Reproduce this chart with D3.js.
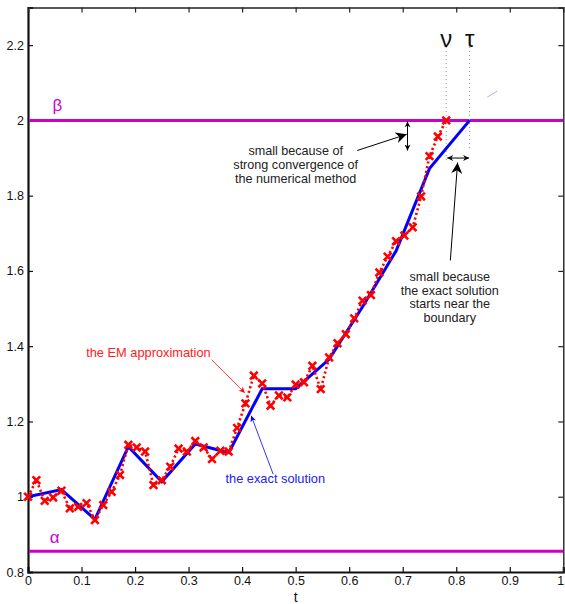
<!DOCTYPE html>
<html>
<head>
<meta charset="utf-8">
<script src="https://cdn.jsdelivr.net/npm/d3@7"></script>
<style>
  html, body { margin: 0; padding: 0; background: #fff; }
  svg { display: block; }
  text { font-family: "Liberation Sans", Arial, Helvetica, sans-serif; }
</style>
</head>
<body>
<svg id="chart" width="565" height="604"></svg>
<script>
// Euler–Maruyama approximation, sampled every emStep, up to the exit time nu
const emStep = 1 / 64;
const emValues = [
  1.000, 1.044, 0.989, 0.998, 1.016, 0.969, 0.973, 0.983, 0.938, 0.978,
  1.013, 1.058, 1.138, 1.131, 1.120, 1.031, 1.044, 1.080, 1.128, 1.120,
  1.148, 1.131, 1.100, 1.122, 1.120, 1.183, 1.248, 1.322, 1.301, 1.242,
  1.269, 1.264, 1.298, 1.304, 1.348, 1.286, 1.370, 1.408, 1.432, 1.474,
  1.521, 1.536, 1.596, 1.638, 1.679, 1.694, 1.716, 1.798, 1.905, 1.957,
  2.000
];

// exact solution, piecewise linear, up to the exit time tau
const exactTimes  = [0, 0.0625, 0.125, 0.1875, 0.25, 0.3125, 0.375, 0.4375, 0.5, 0.5625, 0.625, 0.6875, 0.75, 0.825];
const exactValues = [1.000, 1.019, 0.940, 1.133, 1.040, 1.140, 1.117, 1.287, 1.287, 1.365, 1.505, 1.653, 1.872, 2.000];

// boundaries of the interval
const alpha = 0.855;
const beta = 2.0;
const nuTime = 0.78125;
const tauTime = 0.825;

const xTicks = [0, 0.1, 0.2, 0.3, 0.4, 0.5, 0.6, 0.7, 0.8, 0.9, 1];
const yTicks = [0.8, 1, 1.2, 1.4, 1.6, 1.8, 2, 2.2];
const xDomain = [0, 1];
const yDomain = [0.8, 2.3];

const svg = d3.select("#chart");
const plotL = 28, plotR = 563.3, plotT = 7.5, plotB = 572;

const x = d3.scaleLinear().domain(xDomain).range([plotL, plotR]);
const y = d3.scaleLinear().domain(yDomain).range([plotB, plotT]);

const fmt = d => d3.format("")(+d.toFixed(1));

// arrowhead markers
const defs = svg.append("defs");
function head(id, color, w, h) {
  defs.append("marker")
    .attr("id", id).attr("viewBox", "0 0 10 10")
    .attr("refX", 10).attr("refY", 5)
    .attr("markerWidth", w).attr("markerHeight", h)
    .attr("markerUnits", "userSpaceOnUse")
    .attr("orient", "auto-start-reverse")
    .append("path").attr("d", "M0,0 L10,5 L0,10 L3,5 Z").attr("fill", color);
}
head("bigHead", "#000", 16, 11);
head("smallHead", "#000", 7, 6);
head("redHead", "#f00", 9, 6);
head("blueHead", "#00f", 9, 6);

// axes (ticks pointing inward, box on all four sides)
const tickLen = 5;
const axB = svg.append("g").attr("transform", `translate(0,${plotB})`)
  .call(d3.axisBottom(x).tickValues(xTicks).tickSize(-tickLen).tickPadding(4).tickFormat(fmt));
const axL = svg.append("g").attr("transform", `translate(${plotL},0)`)
  .call(d3.axisLeft(y).tickValues(yTicks).tickSize(-tickLen).tickPadding(4).tickFormat(fmt));
const axT = svg.append("g").attr("transform", `translate(0,${plotT})`)
  .call(d3.axisTop(x).tickValues(xTicks).tickSize(-tickLen).tickFormat(""));
const axR = svg.append("g").attr("transform", `translate(${plotR},0)`)
  .call(d3.axisRight(y).tickValues(yTicks).tickSize(-tickLen).tickFormat(""));

[axB, axL].forEach(g => {
  g.select(".domain").attr("stroke", "#111").attr("stroke-width", 2.2);
  g.selectAll(".tick line").attr("stroke", "#111").attr("stroke-width", 1.2);
  g.selectAll(".tick text").attr("font-size", 12.5).attr("fill", "#111")
    .attr("font-family", "'Liberation Sans', Arial, sans-serif");
});
[axT, axR].forEach(g => {
  g.select(".domain").attr("stroke", "#222").attr("stroke-width", 1.4);
  g.selectAll(".tick line").attr("stroke", "#222").attr("stroke-width", 1.2);
});
// the last x label sits against the right edge of the page
axB.selectAll(".tick").filter(d => d === 1).select("text").attr("text-anchor", "end").attr("dx", 0.5);
// no tick marks at the corners
axB.selectAll(".tick").filter(d => d === 0 || d === 1).select("line").remove();
axT.selectAll(".tick").filter(d => d === 0 || d === 1).select("line").remove();
axL.selectAll(".tick").filter(d => d === 0.8).select("line").remove();
axR.selectAll(".tick").filter(d => d === 0.8).select("line").remove();

svg.append("text").attr("x", x(0.5)).attr("y", 602).attr("text-anchor", "middle")
  .attr("font-size", 14).attr("fill", "#111").text("t");

// boundary lines alpha and beta
const magenta = "#cc00cc";
[alpha, beta].forEach(v => {
  svg.append("line").attr("x1", plotL + 1).attr("x2", plotR)
    .attr("y1", y(v)).attr("y2", y(v))
    .attr("stroke", magenta).attr("stroke-width", 3);
});
svg.append("text").attr("x", x(0.055)).attr("y", y(beta) - 9).attr("text-anchor", "middle")
  .attr("font-family", "'DejaVu Serif', serif").attr("font-size", 17).attr("fill", magenta).text("β");
svg.append("text").attr("x", x(0.05)).attr("y", y(alpha) - 8).attr("text-anchor", "middle")
  .attr("font-family", "'DejaVu Serif', serif").attr("font-size", 17).attr("fill", magenta).text("α");

// exit-time guides nu and tau
[[nuTime, 2.195, 1.892, "ν"], [tauTime, 2.195, 1.92, "τ"]].forEach(([t, y1, y2, lbl]) => {
  svg.append("line").attr("x1", x(t)).attr("x2", x(t)).attr("y1", y(y1)).attr("y2", y(y2))
    .attr("stroke", "#999").attr("stroke-width", 1).attr("stroke-dasharray", "1,3");
  svg.append("text").attr("x", x(t)).attr("y", y(2.2) + 2).attr("text-anchor", "middle")
    .attr("font-family", "'Liberation Serif', 'Times New Roman', serif").attr("font-size", 24)
    .attr("fill", "#111").text(lbl);
});

// faint stroke near tau
svg.append("line").attr("x1", x(0.858)).attr("y1", y(2.062)).attr("x2", x(0.877)).attr("y2", y(2.078))
  .attr("stroke", "#aab0ee").attr("stroke-width", 1);

// exact solution
const exactData = exactTimes.map((t, i) => [t, exactValues[i]]);
svg.append("path").datum(exactData)
  .attr("d", d3.line().x(d => x(d[0])).y(d => y(d[1])))
  .attr("fill", "none").attr("stroke", "#0000ff").attr("stroke-width", 3)
  .attr("stroke-linejoin", "miter");

// EM approximation: dotted path with x markers
const emData = emValues.map((v, i) => [i * emStep, v]);
svg.append("path").datum(emData)
  .attr("d", d3.line().x(d => x(d[0])).y(d => y(d[1])))
  .attr("fill", "none").attr("stroke", "#ff0000").attr("stroke-width", 2.6)
  .attr("stroke-dasharray", "2.2,2.6");
const m = 3.8;
svg.append("g").selectAll("path").data(emData).join("path")
  .attr("d", d => {
    const cx = x(d[0]), cy = y(d[1]);
    return `M${cx - m},${cy - m}L${cx + m},${cy + m}M${cx - m},${cy + m}L${cx + m},${cy - m}`;
  })
  .attr("stroke", "#ff0000").attr("stroke-width", 2.6).attr("fill", "none");

// annotations
function lines(cx, cy, arr, color, size, lh) {
  const t = svg.append("text").attr("text-anchor", "middle").attr("font-size", size).attr("fill", color);
  arr.forEach((s, i) => t.append("tspan").attr("x", cx).attr("y", cy + i * lh).text(s));
}
lines(x(0.5), y(1.92) + 4.5, ["small because of", "strong convergence of", "the numerical method"], "#222", 12.6, 14.2);
lines(x(0.788), y(1.585) + 4.5, ["small because", "the exact solution", "starts near the", "boundary"], "#222", 12.6, 13.7);
lines(x(0.225), y(1.383) + 4.5, ["the EM approximation"], "#ff2020", 12.8, 0);
lines(x(0.462), y(1.048) + 4.5, ["the exact solution"], "#2020ff", 12.8, 0);

// arrows to the gaps
svg.append("line").attr("x1", x(0.615)).attr("y1", y(1.92)).attr("x2", x(0.7075)).attr("y2", y(1.963))
  .attr("stroke", "#000").attr("stroke-width", 1).attr("marker-end", "url(#bigHead)");
svg.append("line").attr("x1", x(0.789)).attr("y1", y(1.628)).attr("x2", x(0.8025)).attr("y2", y(1.888))
  .attr("stroke", "#000").attr("stroke-width", 1).attr("marker-end", "url(#bigHead)");
// double arrows measuring the gaps
svg.append("line").attr("x1", x(0.709)).attr("x2", x(0.709)).attr("y1", y(2.0) + 1).attr("y2", y(1.92))
  .attr("stroke", "#000").attr("stroke-width", 1)
  .attr("marker-start", "url(#smallHead)").attr("marker-end", "url(#smallHead)");
svg.append("line").attr("x1", x(nuTime) + 1).attr("x2", x(tauTime) - 0.5).attr("y1", y(1.9)).attr("y2", y(1.9))
  .attr("stroke", "#000").attr("stroke-width", 1)
  .attr("marker-start", "url(#smallHead)").attr("marker-end", "url(#smallHead)");
// pointers to the curves
svg.append("line").attr("x1", x(0.343)).attr("y1", y(1.364)).attr("x2", x(0.405)).attr("y2", y(1.276))
  .attr("stroke", "#ff0000").attr("stroke-width", 0.8).attr("marker-end", "url(#redHead)");
svg.append("line").attr("x1", x(0.458)).attr("y1", y(1.06)).attr("x2", x(0.417)).attr("y2", y(1.215))
  .attr("stroke", "#0000ff").attr("stroke-width", 0.8).attr("marker-end", "url(#blueHead)");
</script>
</body>
</html>
